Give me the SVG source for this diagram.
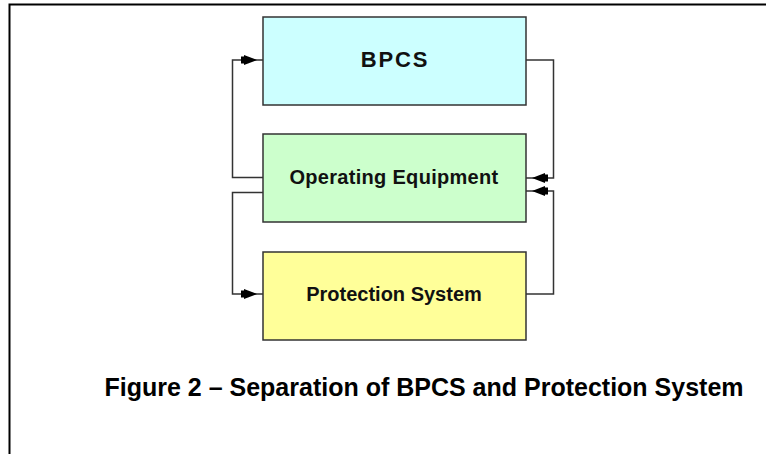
<svg xmlns="http://www.w3.org/2000/svg" width="766" height="454" viewBox="0 0 766 454">
  <style>
    .frame { stroke: #000; stroke-width: 2; fill: none; }
    .box { stroke: #333; stroke-width: 1.5; }
    .wire { stroke: #333; stroke-width: 1.5; fill: none; marker-end: url(#arrow); }
    .label { font-family: "Liberation Sans", Arial, sans-serif; fill: #111; text-anchor: middle; }
    .caption { font-family: "Liberation Sans", Arial, sans-serif; font-weight: bold; font-size: 25px; fill: #000; text-anchor: middle; }
  </style>
  <defs>
    <!-- filled arrowhead, tip sits 6px short of the line end -->
    <marker id="arrow" viewBox="0 0 22 12" refX="22" refY="6" markerWidth="22" markerHeight="12" markerUnits="userSpaceOnUse" orient="auto" overflow="visible">
      <path d="M0,2.5 L3,2.5 L3,1 L16,6 L3,11 L3,9.5 L0,9.5 z" fill="#000"/>
    </marker>
  </defs>

  <rect width="766" height="454" fill="#fff"/>

  <!-- page frame (top and left edges) -->
  <path class="frame" d="M9.5,454 V4.5 H766"/>

  <!-- connectors -->
  <g id="connectors">
    <path class="wire" d="M263,177.5 H232.5 V60 H263"/>
    <path class="wire" d="M263,192.5 H232.5 V294 H263"/>
    <path class="wire" d="M526,60 H553.5 V178 H526"/>
    <path class="wire" d="M526,294 H553.5 V191 H526"/>
  </g>

  <g id="bpcs">
    <rect class="box" x="263" y="17" width="263" height="88" fill="#CCFFFF"/>
    <text class="label" x="395" y="67" font-size="22" font-weight="bold" letter-spacing="1.8">BPCS</text>
  </g>

  <g id="operating-equipment">
    <rect class="box" x="263" y="134" width="263" height="88" fill="#CCFFCC"/>
    <text class="label" x="394" y="184" font-size="20" font-weight="bold" letter-spacing="0.3">Operating Equipment</text>
  </g>

  <g id="protection-system">
    <rect class="box" x="263" y="252" width="263" height="88" fill="#FFFF99"/>
    <text class="label" x="394" y="301" font-size="20" font-weight="bold">Protection System</text>
  </g>

  <g id="caption">
    <text class="caption" x="424" y="396">Figure 2 – Separation of BPCS and Protection System</text>
  </g>
</svg>
